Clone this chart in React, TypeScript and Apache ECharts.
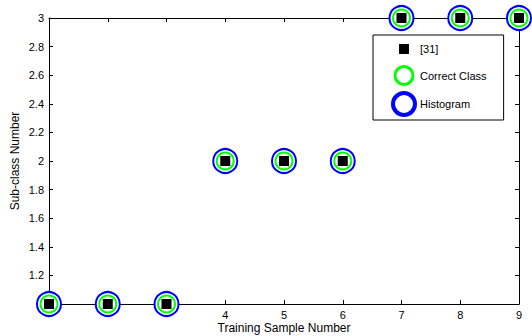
import React, { useEffect, useRef } from "react";
import * as echarts from "echarts";

const sampleNumbers = [1, 2, 3, 4, 5, 6, 7, 8, 9];
const method31 = [1, 1, 1, 2, 2, 2, 3, 3, 3];
const correctClass = [1, 1, 1, 2, 2, 2, 3, 3, 3];
const histogram = [1, 1, 1, 2, 2, 2, 3, 3, 3];
const hiddenXLabels = [1, 2, 3];
const hiddenYLabels = [1];

const FONT = "'Liberation Sans', Arial, sans-serif";

export default function App() {
  const ref = useRef<HTMLDivElement>(null);
  useEffect(() => {
    if (!ref.current) return;
    const chart = echarts.init(ref.current, undefined, { renderer: "svg" });
    const pts = (ys: number[]) => sampleNumbers.map((x, i) => [x, ys[i]]);
    const axisCommon = {
      axisLine: { show: true, onZero: false, lineStyle: { color: "#000", width: 1 } },
      axisTick: { show: true, inside: true, length: 4, lineStyle: { color: "#000" } },
      splitLine: { show: false },
    };
    chart.setOption({
      animation: false,
      backgroundColor: "#fff",
      grid: {
        left: 49,
        right: 13,
        top: 18,
        bottom: 32,
        containLabel: false,
        outerBoundsMode: "none",
      },
      legend: {
        orient: "vertical",
        left: 373,
        top: 35,
        width: 140,
        backgroundColor: "#fff",
        borderColor: "#000",
        borderWidth: 1,
        borderRadius: 0,
        padding: [3, 17, 3, 18],
        itemGap: 3,
        itemWidth: 22,
        itemHeight: 22,
        itemTextGap: 13,
        textStyle: { fontFamily: FONT, fontSize: 11, color: "#000" },
        data: [
          {
            name: "[31]",
            icon: "path://M0,0M22,22M6,6L16,6L16,16L6,16Z",
            itemStyle: { color: "#000", borderWidth: 0 },
          },
          {
            name: "Correct Class",
            icon: "path://M0,0M22,22M2,11A9,9,0,1,1,20,11A9,9,0,1,1,2,11Z",
            itemStyle: { color: "rgba(0,0,0,0)", borderColor: "#00ff00", borderWidth: 3 },
          },
          {
            name: "Histogram",
            icon: "path://M0,0M22,22M0,11A11,11,0,1,1,22,11A11,11,0,1,1,0,11Z",
            itemStyle: { color: "rgba(0,0,0,0)", borderColor: "#0000ff", borderWidth: 4 },
          },
        ],
      },
      xAxis: [
        {
          type: "value",
          min: 1,
          max: 9,
          interval: 1,
          position: "bottom",
          name: "Training Sample Number",
          nameLocation: "middle",
          nameGap: 17,
          nameMoveOverlap: false,
          nameTextStyle: { fontFamily: FONT, fontSize: 12, color: "#000", lineHeight: 14 },
          ...axisCommon,
          axisLabel: {
            fontFamily: FONT,
            fontSize: 11,
            color: "#000",
            margin: 5,
            formatter: (v: number) => (hiddenXLabels.includes(v) ? "" : String(v)),
          },
        },
        {
          type: "value",
          min: 1,
          max: 9,
          interval: 1,
          position: "top",
          ...axisCommon,
          axisLabel: { show: false },
        },
      ],
      yAxis: [
        {
          type: "value",
          min: 1,
          max: 3,
          interval: 0.2,
          position: "left",
          name: "Sub-class Number",
          nameLocation: "middle",
          nameGap: 28,
          nameMoveOverlap: false,
          nameTextStyle: { fontFamily: FONT, fontSize: 12, color: "#000" },
          ...axisCommon,
          axisLabel: {
            fontFamily: FONT,
            fontSize: 11,
            color: "#000",
            margin: 5,
            formatter: (v: number) => {
              const r = Math.round(v * 10) / 10;
              return hiddenYLabels.includes(r) ? "" : String(r);
            },
          },
        },
        {
          type: "value",
          min: 1,
          max: 3,
          interval: 0.2,
          position: "right",
          ...axisCommon,
          axisLabel: { show: false },
        },
      ],
      series: [
        {
          name: "Histogram",
          type: "scatter",
          data: pts(histogram),
          symbol: "emptyCircle",
          symbolSize: 24,
          clip: false,
          z: 3,
          itemStyle: { color: "#0000ff", borderColor: "#0000ff", borderWidth: 4, opacity: 1 },
        },
        {
          name: "Correct Class",
          type: "scatter",
          data: pts(correctClass),
          symbol: "emptyCircle",
          symbolSize: 17,
          clip: false,
          z: 4,
          itemStyle: { color: "#00ff00", borderColor: "#00ff00", borderWidth: 3, opacity: 1 },
        },
        {
          name: "[31]",
          type: "scatter",
          data: pts(method31),
          symbol: "rect",
          symbolSize: 10,
          clip: false,
          z: 5,
          itemStyle: { color: "#000", opacity: 1 },
        },
      ],
    });
    return () => chart.dispose();
  }, []);
  return <div ref={ref} style={{ width: 532, height: 336, position: "absolute", left: 0, top: 0 }} />;
}
